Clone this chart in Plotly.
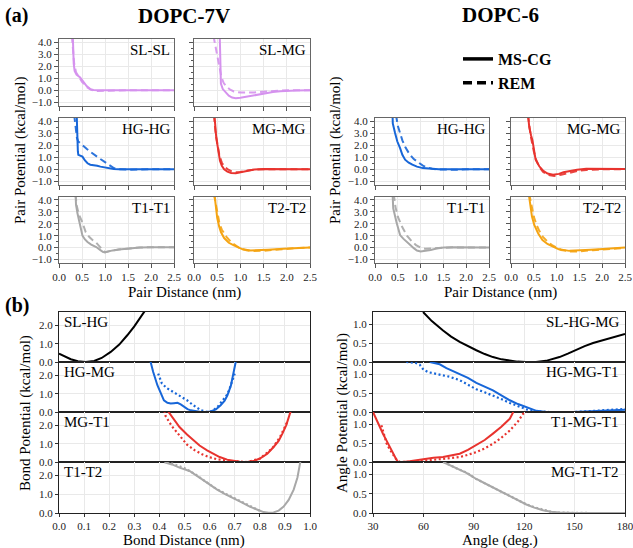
import plotly.graph_objects as go

W, H = 633, 548

# ================= DATA =================
# ---- (a) pair potentials, DOPC-7V ----
slsl7_ms_x = [0.30, 0.31, 0.32, 0.34, 0.38, 0.46, 0.53, 0.60, 0.68, 0.75, 0.85, 1.0, 1.5, 2.0, 2.5]
slsl7_ms_y = [4.5, 3.0, 2.2, 1.6, 1.3, 1.06, 0.65, 0.35, 0.1, 0.02, 0.0, 0.0, 0.0, 0.0, 0.0]
slsl7_rem_x = [0.28, 0.30, 0.33, 0.37, 0.42, 0.50, 0.60, 0.70, 0.80, 0.90, 1.0, 1.5, 2.5]
slsl7_rem_y = [4.5, 3.4, 2.2, 1.5, 1.15, 0.7, 0.28, 0.03, -0.06, -0.05, 0.0, 0.0, 0.0]

slmg7_ms_x = [0.555, 0.56, 0.565, 0.58, 0.62, 0.68, 0.75, 0.82, 0.90, 1.0, 1.15, 1.3, 1.5, 1.7, 1.86, 2.0, 2.2, 2.5]
slmg7_ms_y = [4.5, 2.5, 1.2, 0.55, 0.1, -0.2, -0.45, -0.6, -0.65, -0.62, -0.52, -0.38, -0.24, -0.14, -0.08, -0.04, -0.01, 0.0]
slmg7_rem_x = [0.42, 0.47, 0.51, 0.55, 0.59, 0.64, 0.70, 0.78, 0.86, 1.0, 1.15, 1.3, 1.5, 1.7, 1.86, 2.0, 2.5]
slmg7_rem_y = [4.5, 3.5, 2.8, 1.9, 1.1, 0.6, 0.3, 0.05, -0.1, -0.18, -0.2, -0.18, -0.12, -0.05, -0.02, 0.0, 0.0]

hghg7_ms_x = [0.385, 0.39, 0.40, 0.41, 0.42, 0.46, 0.51, 0.56, 0.62, 0.68, 0.75, 0.83, 0.90, 1.0, 1.1, 1.19, 1.3, 2.5]
hghg7_ms_y = [4.5, 3.5, 2.3, 1.5, 1.2, 1.15, 1.05, 0.75, 0.5, 0.38, 0.35, 0.3, 0.22, 0.13, 0.07, 0.02, 0.0, 0.0]
hghg7_rem_x = [0.33, 0.36, 0.39, 0.42, 0.50, 0.60, 0.70, 0.80, 0.90, 1.0, 1.1, 1.2, 1.3, 1.5, 2.0, 2.5]
hghg7_rem_y = [4.5, 3.5, 2.6, 2.3, 2.0, 1.7, 1.4, 1.1, 0.85, 0.6, 0.35, 0.08, 0.0, -0.03, 0.0, 0.0]

mgmg7_ms_x = [0.44, 0.46, 0.48, 0.51, 0.56, 0.60, 0.65, 0.72, 0.80, 0.90, 1.0, 1.15, 1.3, 1.5, 2.0, 2.5]
mgmg7_ms_y = [4.5, 3.3, 2.6, 1.9, 0.7, 0.3, 0.0, -0.2, -0.3, -0.33, -0.25, -0.1, -0.02, 0.02, 0.02, 0.0]
mgmg7_rem_x = [0.43, 0.46, 0.50, 0.55, 0.60, 0.65, 0.72, 0.80, 0.90, 1.0, 1.15, 1.3, 1.5, 2.5]
mgmg7_rem_y = [4.5, 3.2, 2.2, 1.1, 0.55, 0.25, 0.02, -0.15, -0.25, -0.22, -0.1, -0.03, 0.0, 0.0]

t1t17_ms_x = [0.36, 0.37, 0.40, 0.44, 0.48, 0.51, 0.56, 0.62, 0.70, 0.81, 0.90, 0.96, 1.0, 1.1, 1.17, 1.3, 1.54, 1.76, 2.0, 2.5]
t1t17_ms_y = [4.5, 3.6, 2.9, 2.2, 1.4, 1.0, 0.7, 0.46, 0.25, 0.04, -0.22, -0.38, -0.4, -0.3, -0.24, -0.17, -0.08, 0.01, 0.02, 0.02]
t1t17_rem_x = [0.36, 0.38, 0.43, 0.51, 0.58, 0.66, 0.74, 0.81, 0.88, 0.92, 0.97, 1.0, 1.1, 1.3, 1.54, 1.76, 2.0, 2.5]
t1t17_rem_y = [4.5, 3.6, 2.8, 2.1, 1.3, 0.88, 0.6, 0.4, 0.1, -0.1, -0.35, -0.4, -0.3, -0.17, -0.08, 0.01, 0.02, 0.02]

t2t27_ms_x = [0.44, 0.46, 0.50, 0.54, 0.58, 0.65, 0.75, 0.86, 0.95, 1.05, 1.22, 1.4, 1.6, 1.93, 2.2, 2.5]
t2t27_ms_y = [4.5, 3.6, 2.5, 1.8, 1.3, 0.8, 0.4, 0.18, 0.0, -0.15, -0.25, -0.24, -0.18, -0.1, -0.05, 0.0]
t2t27_rem_x = [0.43, 0.46, 0.50, 0.55, 0.60, 0.70, 0.80, 0.90, 1.0, 1.15, 1.3, 1.5, 1.7, 1.9, 2.2, 2.5]
t2t27_rem_y = [4.5, 3.8, 2.8, 2.0, 1.5, 0.9, 0.45, 0.15, -0.1, -0.25, -0.3, -0.27, -0.2, -0.13, -0.05, 0.0]

# ---- (a) pair potentials, DOPC-6 ----
hghg6_ms_x = [0.385, 0.39, 0.44, 0.49, 0.55, 0.60, 0.66, 0.74, 0.82, 0.92, 1.05, 1.22, 1.4, 2.5]
hghg6_ms_y = [4.5, 3.8, 3.0, 2.3, 1.75, 1.2, 0.8, 0.55, 0.38, 0.22, 0.1, 0.03, 0.0, 0.0]
hghg6_rem_x = [0.46, 0.50, 0.55, 0.60, 0.67, 0.75, 0.85, 0.95, 1.05, 1.15, 1.25, 1.4, 1.6, 1.8, 2.0, 2.5]
hghg6_rem_y = [4.5, 3.6, 3.0, 2.4, 1.8, 1.3, 0.85, 0.55, 0.3, 0.15, 0.05, -0.02, -0.05, -0.03, 0.0, 0.0]

mgmg6_ms_x = [0.375, 0.40, 0.44, 0.47, 0.54, 0.62, 0.70, 0.80, 0.92, 1.05, 1.15, 1.28, 1.45, 1.65, 2.0, 2.5]
mgmg6_ms_y = [4.5, 3.5, 2.8, 2.4, 0.8, 0.25, -0.1, -0.35, -0.45, -0.38, -0.25, -0.15, -0.04, 0.05, 0.05, 0.02]
mgmg6_rem_x = [0.37, 0.40, 0.44, 0.50, 0.55, 0.62, 0.70, 0.80, 0.95, 1.1, 1.3, 1.5, 1.65, 2.0, 2.5]
mgmg6_rem_y = [4.5, 3.6, 2.6, 1.5, 0.8, 0.2, -0.2, -0.45, -0.55, -0.45, -0.25, -0.1, -0.05, 0.0, 0.0]

t1t16_ms_x = [0.385, 0.40, 0.47, 0.55, 0.62, 0.70, 0.78, 0.85, 0.92, 1.0, 1.1, 1.22, 1.35, 1.51, 1.73, 2.0, 2.5]
t1t16_ms_y = [4.5, 3.3, 2.15, 1.05, 0.75, 0.5, 0.2, -0.05, -0.25, -0.33, -0.28, -0.2, -0.08, 0.0, 0.03, 0.02, 0.0]
t1t16_rem_x = [0.41, 0.45, 0.50, 0.60, 0.70, 0.80, 0.90, 1.0, 1.1, 1.3, 1.5, 1.7, 2.0, 2.5]
t1t16_rem_y = [4.5, 3.4, 2.6, 1.7, 1.0, 0.55, 0.2, 0.0, -0.1, -0.05, 0.0, 0.02, 0.0, 0.0]

t2t26_ms_x = [0.39, 0.42, 0.46, 0.51, 0.60, 0.69, 0.80, 0.92, 1.05, 1.28, 1.5, 1.75, 2.02, 2.25, 2.5]
t2t26_ms_y = [4.5, 3.5, 2.6, 1.9, 1.15, 0.63, 0.3, 0.08, -0.15, -0.28, -0.26, -0.18, -0.12, -0.05, 0.0]
t2t26_rem_x = [0.40, 0.44, 0.50, 0.56, 0.62, 0.70, 0.80, 0.90, 1.0, 1.1, 1.3, 1.5, 1.8, 2.1, 2.5]
t2t26_rem_y = [4.5, 3.7, 2.6, 1.9, 1.4, 0.9, 0.5, 0.2, 0.0, -0.2, -0.33, -0.32, -0.22, -0.12, -0.03]

pair_names = ["SL-SL", "SL-MG", "HG-HG", "MG-MG", "T1-T1", "T2-T2"]

# ---- (b) bond potentials ----
slhg_ms_x = [0.0, 0.025, 0.047, 0.075, 0.106, 0.14, 0.17, 0.206, 0.24, 0.272, 0.30, 0.34, 0.36]
slhg_ms_y = [0.46, 0.28, 0.15, 0.04, 0.0, 0.06, 0.22, 0.55, 0.95, 1.46, 1.95, 2.75, 3.2]

hgmg_ms_x = [0.36, 0.375, 0.392, 0.405, 0.418, 0.432, 0.445, 0.458, 0.472, 0.485, 0.498, 0.512, 0.525,
             0.545, 0.565, 0.585, 0.604, 0.625, 0.644, 0.66, 0.671, 0.685, 0.691, 0.70, 0.708]
hgmg_ms_y = [3.0, 2.2, 1.46, 1.0, 0.64, 0.5, 0.46, 0.48, 0.5, 0.42, 0.27, 0.16, 0.09,
             0.03, 0.0, 0.0, 0.03, 0.14, 0.37, 0.62, 0.91, 1.45, 1.82, 2.4, 3.0]
hgmg_rem_x = [0.395, 0.41, 0.43, 0.455, 0.48, 0.51, 0.535, 0.565, 0.59, 0.61, 0.63, 0.645, 0.66, 0.67, 0.68, 0.69, 0.70]
hgmg_rem_y = [2.1, 1.55, 1.3, 1.1, 0.91, 0.64, 0.37, 0.1, 0.0, 0.05, 0.25, 0.5, 0.73, 0.95, 1.28, 1.65, 2.1]

mgt1_ms_x = [0.425, 0.45, 0.48, 0.51, 0.535, 0.56, 0.59, 0.615, 0.64, 0.67, 0.695, 0.72, 0.75,
             0.775, 0.80, 0.83, 0.855, 0.875, 0.89, 0.905, 0.92, 0.93]
mgt1_ms_y = [2.95, 2.45, 1.91, 1.5, 1.19, 0.9, 0.64, 0.44, 0.27, 0.13, 0.05, 0.01, 0.0,
             0.05, 0.19, 0.45, 0.82, 1.15, 1.55, 2.0, 2.64, 3.0]
mgt1_rem_x = [0.42, 0.425, 0.45, 0.48, 0.51, 0.54, 0.57, 0.60, 0.63, 0.67, 0.72, 0.75, 0.80, 0.85, 0.88, 0.91]
mgt1_rem_y = [2.8, 2.5, 1.95, 1.45, 0.95, 0.65, 0.42, 0.26, 0.15, 0.07, 0.02, 0.0, 0.18, 0.75, 1.35, 2.2]

t1t2_ms_x = [0.42, 0.45, 0.48, 0.52, 0.56, 0.60, 0.63, 0.66, 0.695, 0.73, 0.76, 0.79, 0.815, 0.835,
             0.855, 0.875, 0.895, 0.915, 0.935, 0.95, 0.96, 0.965]
t1t2_ms_y = [2.72, 2.6, 2.43, 2.25, 1.89, 1.5, 1.25, 1.02, 0.8, 0.56, 0.34, 0.17, 0.05, 0.01,
             0.03, 0.13, 0.34, 0.7, 1.25, 1.9, 2.6, 3.0]
t1t2_rem_x = [0.43, 0.46, 0.50, 0.54, 0.58, 0.62, 0.66, 0.70, 0.74, 0.78, 0.80]
t1t2_rem_y = [2.75, 2.6, 2.4, 2.1, 1.72, 1.35, 1.05, 0.78, 0.5, 0.23, 0.12]

bond_names = ["SL-HG", "HG-MG", "MG-T1", "T1-T2"]

# ---- (b) angle potentials ----
slhgmg_ms_x = [59.8, 65, 71.7, 76.5, 81.6, 86.5, 91.5, 96.5, 101.4, 106.5, 111.4, 116, 121, 127, 133,
               141, 146, 151, 156, 161, 166, 171, 176, 180]
slhgmg_ms_y = [1.32, 1.08, 0.83, 0.67, 0.53, 0.41, 0.31, 0.21, 0.13, 0.07, 0.03, 0.01, 0.0, 0.0, 0.03,
               0.13, 0.22, 0.33, 0.42, 0.5, 0.56, 0.62, 0.69, 0.74]

hgmgt1_ms_x = [63.8, 66, 69.7, 73.7, 77.5, 81.6, 86.5, 91.5, 96.5, 101.4, 106.4, 111.4, 116.3, 121.3,
               127.3, 133, 140, 150, 160, 170, 180]
hgmgt1_ms_y = [1.32, 1.3, 1.26, 1.16, 1.08, 1.01, 0.9, 0.77, 0.67, 0.57, 0.44, 0.31, 0.21, 0.12,
               0.03, 0.0, 0.0, 0.0, 0.02, 0.04, 0.06]
hgmgt1_rem_x = [49.8, 55, 57.8, 60, 63, 67.7, 71.7, 75.6, 81.6, 86.5, 91.5, 96.5, 101.4, 106.4, 111.4,
                116.3, 121.3, 127, 135, 150, 160, 170, 180]
hgmgt1_rem_y = [1.32, 1.3, 1.25, 1.12, 1.05, 1.0, 0.97, 0.93, 0.84, 0.73, 0.6, 0.52, 0.44, 0.34, 0.24,
                0.15, 0.07, 0.02, 0.0, 0.0, 0.02, 0.05, 0.08]

t1mgt1_ms_x = [30, 32, 34, 36, 38, 40, 41.9, 43.5, 44.9, 48, 51.8, 56, 61.8, 66, 71.7, 76.5, 81.6,
               86.5, 91.5, 96.5, 101.4, 106.4, 111.4, 113.5]
t1mgt1_ms_y = [1.32, 1.12, 0.92, 0.74, 0.57, 0.39, 0.22, 0.1, 0.0, 0.0, 0.02, 0.05, 0.09, 0.11, 0.13,
               0.17, 0.22, 0.32, 0.44, 0.58, 0.75, 0.93, 1.14, 1.32]
t1mgt1_rem_x = [35, 36, 38, 40, 42, 44, 46, 50, 55, 60, 65, 70, 75, 81.6, 86.5, 91.5, 96.5, 101.4,
                106.4, 111.4, 116.3, 119.3, 121.3]
t1mgt1_rem_y = [0.97, 0.8, 0.5, 0.33, 0.18, 0.06, 0.0, 0.0, 0.01, 0.03, 0.05, 0.07, 0.09, 0.13, 0.19,
                0.26, 0.36, 0.48, 0.64, 0.83, 1.07, 1.27, 1.32]

mgt1t2_ms_x = [71.7, 76.5, 81.6, 85.6, 88.5, 91.5, 96.5, 101.4, 106.4, 111.4, 116.3, 121.3, 126,
               131.2, 136, 141.1, 150, 160, 170, 180]
mgt1t2_ms_y = [1.32, 1.22, 1.13, 1.04, 0.96, 0.88, 0.77, 0.66, 0.55, 0.44, 0.33, 0.22, 0.14,
               0.07, 0.03, 0.01, 0.0, 0.0, 0.0, 0.0]
mgt1t2_rem_x = [72, 76, 81, 86, 91, 96, 101, 106, 111, 116, 121, 126, 131, 136, 141, 150, 160, 170, 180]
mgt1t2_rem_y = [1.32, 1.23, 1.13, 1.04, 0.89, 0.78, 0.67, 0.56, 0.45, 0.34, 0.23, 0.15, 0.08, 0.03,
                0.01, 0.0, 0.0, 0.0, 0.0]

angle_names = ["SL-HG-MG", "HG-MG-T1", "T1-MG-T1", "MG-T1-T2"]

legend_names = ["MS-CG", "REM"]

# ================= STYLE =================
C_SL = "#d592ee"
C_HG = "#1766d8"
C_MG = "#e8332e"
C_T1 = "#a8a8a8"
C_T2 = "#f5a412"
C_BK = "#000000"
FONT = "Liberation Serif"
GRID = "#e9e9e9"


def px_x(p):
    return p / W


def px_y(p):
    return 1 - p / H


fig = go.Figure()
layout = {}
axis_count = [0]


def new_axes(xdom_px, ydom_px, xspec, yspec):
    axis_count[0] += 1
    i = axis_count[0]
    xk = "xaxis" if i == 1 else f"xaxis{i}"
    yk = "yaxis" if i == 1 else f"yaxis{i}"
    xr = "x" if i == 1 else f"x{i}"
    yr = "y" if i == 1 else f"y{i}"
    xa = dict(domain=[px_x(xdom_px[0]), px_x(xdom_px[1])], anchor=yr, automargin=False,
              ticklabeloverflow="allow")
    ya = dict(domain=[px_y(ydom_px[1]), px_y(ydom_px[0])], anchor=xr, automargin=False,
              ticklabeloverflow="allow")
    xa.update(xspec)
    ya.update(yspec)
    layout[xk] = xa
    layout[yk] = ya
    return xr, yr


def pair_panel(xdom, ydom, show_xlab, show_ylab, name, color, msx, msy, remx, remy):
    xspec = dict(range=[0, 2.5], tick0=0, dtick=0.5, tickformat=".1f", ticks="outside", ticklen=4,
                 tickcolor="#555", showticklabels=show_xlab, showgrid=True, gridcolor=GRID,
                 showline=True, linecolor="#666", linewidth=1, mirror=True, zeroline=False,
                 tickfont=dict(size=11, family=FONT, color="#222"))
    yspec = dict(range=[-1.3, 4.25], tick0=-1, dtick=1, tickformat=".1f", ticks="outside", ticklen=4,
                 tickcolor="#555", showticklabels=show_ylab, showgrid=True, gridcolor=GRID,
                 showline=True, linecolor="#666", linewidth=1, mirror=True, zeroline=False,
                 minor=dict(tick0=0, dtick=0.5, ticks="outside", ticklen=2, tickcolor="#555", showgrid=False),
                 tickfont=dict(size=11, family=FONT, color="#222"))
    xr, yr = new_axes(xdom, ydom, xspec, yspec)
    fig.add_trace(go.Scatter(x=remx, y=remy, xaxis=xr, yaxis=yr, mode="lines", showlegend=False,
                             line=dict(color=color, width=2, dash="7px,4px"), opacity=0.9))
    fig.add_trace(go.Scatter(x=msx, y=msy, xaxis=xr, yaxis=yr, mode="lines", showlegend=False,
                             line=dict(color=color, width=2)))
    fig.add_annotation(text=name, xref=f"{xr} domain", yref=f"{yr} domain", x=0.98, y=0.98,
                       xanchor="right", yanchor="top", showarrow=False,
                       font=dict(size=15, family=FONT, color="#000"))


# --- panel (a) geometry (pixels) ---
COLS = [(59, 174), (194, 310), (375, 489), (511, 625)]
ROWS = [(39, 106), (118, 185), (197, 263)]

pair_panel(COLS[0], ROWS[0], False, True, pair_names[0], C_SL, slsl7_ms_x, slsl7_ms_y, slsl7_rem_x, slsl7_rem_y)
pair_panel(COLS[1], ROWS[0], False, False, pair_names[1], C_SL, slmg7_ms_x, slmg7_ms_y, slmg7_rem_x, slmg7_rem_y)
pair_panel(COLS[0], ROWS[1], False, True, pair_names[2], C_HG, hghg7_ms_x, hghg7_ms_y, hghg7_rem_x, hghg7_rem_y)
pair_panel(COLS[1], ROWS[1], False, False, pair_names[3], C_MG, mgmg7_ms_x, mgmg7_ms_y, mgmg7_rem_x, mgmg7_rem_y)
pair_panel(COLS[0], ROWS[2], True, True, pair_names[4], C_T1, t1t17_ms_x, t1t17_ms_y, t1t17_rem_x, t1t17_rem_y)
pair_panel(COLS[1], ROWS[2], True, False, pair_names[5], C_T2, t2t27_ms_x, t2t27_ms_y, t2t27_rem_x, t2t27_rem_y)

pair_panel(COLS[2], ROWS[1], False, True, pair_names[2], C_HG, hghg6_ms_x, hghg6_ms_y, hghg6_rem_x, hghg6_rem_y)
pair_panel(COLS[3], ROWS[1], False, False, pair_names[3], C_MG, mgmg6_ms_x, mgmg6_ms_y, mgmg6_rem_x, mgmg6_rem_y)
pair_panel(COLS[2], ROWS[2], True, True, pair_names[4], C_T1, t1t16_ms_x, t1t16_ms_y, t1t16_rem_x, t1t16_rem_y)
pair_panel(COLS[3], ROWS[2], True, False, pair_names[5], C_T2, t2t26_ms_x, t2t26_ms_y, t2t26_rem_x, t2t26_rem_y)

# --- panel (b) ---
BROWS = [(312, 362), (362, 412), (412, 462), (462, 513)]
BOND_X = (59, 310)
ANG_X = (373, 625)


def b_panel(xdom, ydom, kind, bottom, name, color, msx, msy, remx=None, remy=None):
    if kind == "bond":
        xspec = dict(range=[0, 1.0], tick0=0, dtick=0.1, tickformat=".1f")
        yspec = dict(range=[0, 2.73], tick0=0, dtick=1.0, tickformat=".1f")
        lab_x, lab_anchor = 0.01, "left"
    else:
        xspec = dict(range=[30, 180], tick0=30, dtick=30, tickformat="d")
        yspec = dict(range=[0, 1.32], tick0=0, dtick=0.5, tickformat=".1f")
        lab_x, lab_anchor = 0.985, "right"
    common = dict(ticks="outside", ticklen=3, tickcolor="#333", showgrid=True, gridcolor=GRID,
                  showline=True, linecolor="#222", linewidth=1, mirror=True, zeroline=False,
                  tickfont=dict(size=11, family=FONT, color="#222"))
    xspec.update(common)
    yspec.update(common)
    xspec["showticklabels"] = bottom
    if not bottom:
        xspec["ticks"] = ""
    xr, yr = new_axes(xdom, ydom, xspec, yspec)
    if remx is not None:
        fig.add_trace(go.Scatter(x=remx, y=remy, xaxis=xr, yaxis=yr, mode="lines", showlegend=False,
                                 line=dict(color=color, width=2.2, dash="2px,2.5px")))
    fig.add_trace(go.Scatter(x=msx, y=msy, xaxis=xr, yaxis=yr, mode="lines", showlegend=False,
                             line=dict(color=color, width=2)))
    fig.add_annotation(text=name, xref=f"{xr} domain", yref=f"{yr} domain", x=lab_x, y=1.0,
                       xanchor=lab_anchor, yanchor="top", showarrow=False,
                       font=dict(size=15, family=FONT, color="#000"))


b_panel(BOND_X, BROWS[0], "bond", False, bond_names[0], C_BK, slhg_ms_x, slhg_ms_y)
b_panel(BOND_X, BROWS[1], "bond", False, bond_names[1], C_HG, hgmg_ms_x, hgmg_ms_y, hgmg_rem_x, hgmg_rem_y)
b_panel(BOND_X, BROWS[2], "bond", False, bond_names[2], C_MG, mgt1_ms_x, mgt1_ms_y, mgt1_rem_x, mgt1_rem_y)
b_panel(BOND_X, BROWS[3], "bond", True, bond_names[3], C_T1, t1t2_ms_x, t1t2_ms_y, t1t2_rem_x, t1t2_rem_y)

b_panel(ANG_X, BROWS[0], "angle", False, angle_names[0], C_BK, slhgmg_ms_x, slhgmg_ms_y)
b_panel(ANG_X, BROWS[1], "angle", False, angle_names[1], C_HG, hgmgt1_ms_x, hgmgt1_ms_y, hgmgt1_rem_x, hgmgt1_rem_y)
b_panel(ANG_X, BROWS[2], "angle", False, angle_names[2], C_MG, t1mgt1_ms_x, t1mgt1_ms_y, t1mgt1_rem_x, t1mgt1_rem_y)
b_panel(ANG_X, BROWS[3], "angle", True, angle_names[3], C_T1, mgt1t2_ms_x, mgt1t2_ms_y, mgt1t2_rem_x, mgt1t2_rem_y)

# --- legend (dummy traces) ---
fig.add_trace(go.Scatter(x=[None], y=[None], mode="lines", name=f"<b>{legend_names[0]}</b>",
                         line=dict(color="black", width=3.5)))
fig.add_trace(go.Scatter(x=[None], y=[None], mode="lines", name=f"<b>{legend_names[1]}</b>",
                         line=dict(color="black", width=3.5, dash="9px,5px")))


# --- text annotations ---
def text(s, xp, yp, size, bold=False, angle=0, xanchor="center", yanchor="middle"):
    fig.add_annotation(text=f"<b>{s}</b>" if bold else s, xref="paper", yref="paper",
                       x=px_x(xp), y=px_y(yp), xanchor=xanchor, yanchor=yanchor, textangle=angle,
                       showarrow=False, font=dict(size=size, family=FONT, color="#000"))


text("(a)", 3, 16, 20, bold=True, xanchor="left")
text("DOPC-7V", 184, 16, 21, bold=True)
text("DOPC-6", 500, 15, 21, bold=True)
text("Pair Potential (kcal/mol)", 20, 151, 15, angle=-90)
text("Pair Potential (kcal/mol)", 335, 151, 15, angle=-90)
text("Pair Distance (nm)", 184, 292, 15)
text("Pair Distance (nm)", 500, 292, 15)
text("(b)", 3, 305, 20, bold=True, xanchor="left")
text("Bond Potential (kcal/mol)", 25, 413, 15, angle=-90)
text("Angle Potential (kcal/mol)", 342, 413, 15, angle=-90)
text("Bond Distance (nm)", 184, 540, 15)
text("Angle (deg.)", 500, 540, 15)

layout.update(dict(
    width=W, height=H, autosize=False, template="none",
    margin=dict(l=0, r=0, t=0, b=0),
    paper_bgcolor="white", plot_bgcolor="white",
    font=dict(family=FONT, color="#000"),
    showlegend=True,
    legend=dict(x=px_x(458), y=px_y(42), xanchor="left", yanchor="top", bgcolor="rgba(0,0,0,0)",
                font=dict(size=16, family=FONT, color="#000"), itemwidth=30, tracegroupgap=0),
))
fig.update_layout(**layout)
fig.write_html("out.html", config={"displayModeBar": False},
               post_script="document.body.style.margin='0';document.body.style.overflow='hidden';")
